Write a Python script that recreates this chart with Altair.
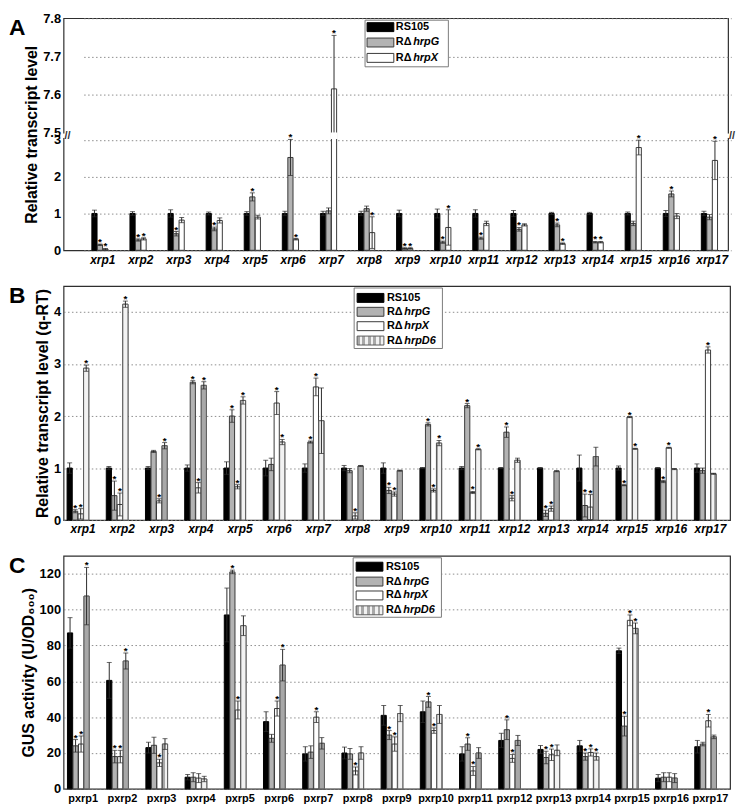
import altair as alt
import pandas as pd

FONT = "Liberation Sans"
SERIES = ["RS105", "hrpG", "hrpX", "hrpD6"]
FILLS = ["#000000", "#b3b3b3", "#ffffff", "#cfcfcf"]
STROKES = ["#000000", "#3a3a3a", "#3a3a3a", "#5a5a5a"]
LEG_MAIN = ["RS105", "RΔ", "RΔ", "RΔ"]
LEG_ITAL = ["", "hrpG", "hrpX", "hrpD6"]

genes_xrp = ["xrp1", "xrp2", "xrp3", "xrp4", "xrp5", "xrp6", "xrp7", "xrp8", "xrp9",
             "xrp10", "xrp11", "xrp12", "xrp13", "xrp14", "xrp15", "xrp16", "xrp17"]
genes_pxrp = ["pxrp1", "pxrp2", "pxrp3", "pxrp4", "pxrp5", "pxrp6", "pxrp7", "pxrp8", "pxrp9",
              "pxrp10", "pxrp11", "pxrp12", "pxrp13", "pxrp14", "pxrp15", "pxrp16", "pxrp17"]
no_sig = ["", "", "", "", "", "", "", "", "", "", "", "", "", "", "", "", ""]

# ---- Panel A ----
A_rs = [1.00, 1.00, 1.00, 1.00, 1.00, 1.00, 1.00, 1.00, 1.00, 1.00, 1.00, 1.00, 1.00, 1.00, 1.00, 1.00, 1.00]
A_rs_err = [0.09, 0.05, 0.10, 0.04, 0.05, 0.06, 0.06, 0.06, 0.09, 0.12, 0.10, 0.08, 0.03, 0.03, 0.04, 0.08, 0.06]
A_g = [0.15, 0.28, 0.45, 0.58, 1.45, 2.52, 1.07, 1.13, 0.05, 0.22, 0.33, 0.57, 0.69, 0.22, 0.73, 1.53, 0.90]
A_g_err = [0.02, 0.03, 0.06, 0.05, 0.11, 0.49, 0.08, 0.07, 0.02, 0.03, 0.03, 0.05, 0.05, 0.02, 0.06, 0.08, 0.07]
A_g_sig = ["*", "*", "*", "*", "*", "*", "", "", "*", "*", "*", "*", "*", "*", "", "*", ""]
A_x = [0.03, 0.31, 0.82, 0.81, 0.90, 0.30, 7.615, 0.48, 0.05, 0.62, 0.73, 0.69, 0.18, 0.22, 2.79, 0.93, 2.44]
A_x_err = [0.02, 0.03, 0.07, 0.07, 0.05, 0.02, 0.14, 0.43, 0.02, 0.48, 0.06, 0.03, 0.02, 0.02, 0.20, 0.07, 0.52]
A_x_sig = ["*", "*", "", "", "", "*", "*", "*", "*", "*", "", "", "*", "*", "*", "", "*"]

# ---- Panel B ----
B_rs = [1.00, 1.00, 1.00, 1.00, 1.00, 1.00, 1.00, 1.00, 1.00, 1.00, 1.00, 1.00, 1.00, 1.00, 1.00, 1.00, 1.00]
B_rs_err = [0.10, 0.03, 0.03, 0.06, 0.12, 0.15, 0.08, 0.05, 0.10, 0.01, 0.03, 0.01, 0.01, 0.25, 0.04, 0.01, 0.08]
B_g = [0.17, 0.47, 1.32, 2.65, 2.00, 1.07, 1.50, 0.95, 0.57, 1.84, 2.20, 1.69, 0.13, 0.28, 0.67, 0.74, 0.95]
B_g_err = [0.03, 0.28, 0.02, 0.03, 0.12, 0.12, 0.02, 0.04, 0.06, 0.03, 0.04, 0.10, 0.06, 0.22, 0.01, 0.02, 0.05]
B_g_sig = ["*", "*", "", "*", "*", "", "*", "", "*", "*", "*", "*", "*", "*", "*", "*", ""]
B_x = [0.12, 0.30, 0.37, 0.62, 0.64, 2.25, 2.56, 0.08, 0.50, 0.57, 0.53, 0.42, 0.22, 0.25, 1.98, 1.39, 3.27]
B_x_err = [0.10, 0.22, 0.04, 0.10, 0.04, 0.22, 0.17, 0.06, 0.04, 0.03, 0.02, 0.05, 0.05, 0.24, 0.01, 0.01, 0.06]
B_x_sig = ["*", "*", "*", "*", "*", "*", "*", "*", "*", "*", "*", "*", "*", "*", "*", "*", "*"]
B_d = [2.92, 4.15, 1.43, 2.59, 2.30, 1.50, 1.91, 1.04, 0.95, 1.48, 1.36, 1.15, 0.94, 1.22, 1.37, 0.98, 0.89]
B_d_err = [0.06, 0.06, 0.06, 0.07, 0.07, 0.05, 0.63, 0.01, 0.01, 0.05, 0.01, 0.04, 0.01, 0.18, 0.01, 0.01, 0.01]
B_d_sig = ["*", "*", "*", "*", "*", "*", "", "", "", "*", "*", "", "", "", "*", "", ""]

# ---- Panel C ----
C_rs = [87, 60.5, 23, 6.5, 97, 37.5, 19.5, 20, 41, 43, 19.5, 27, 22, 24, 77, 6, 23.5]
C_rs_err = [8.5, 10, 3, 1.5, 15, 5.5, 4, 3.3, 5.5, 6, 4, 4, 2.2, 3, 1.5, 2, 3.5]
C_g = [24, 18, 24.3, 6.5, 121, 28.2, 20.5, 19.5, 30, 48.5, 25, 33, 17.5, 18, 35, 6.5, 25]
C_g_err = [3.5, 3.5, 4.5, 2.5, 1, 2.2, 3.5, 3, 2.5, 3, 3.5, 5.5, 3.5, 2, 5.5, 2.5, 1]
C_g_sig = ["*", "*", "", "", "*", "", "", "", "*", "*", "*", "*", "*", "*", "*", "", ""]
C_x = [25, 18, 14.5, 6, 44, 44.8, 40, 10, 25, 32.5, 10, 17, 19, 20.3, 94, 6.5, 38]
C_x_err = [4.5, 3.5, 2, 2.5, 5, 4.2, 3, 2.2, 4, 1.5, 2.5, 2.2, 3.2, 2, 3, 2.5, 3.5]
C_x_sig = ["*", "*", "*", "", "*", "*", "*", "*", "*", "*", "*", "*", "*", "*", "*", "", "*"]
C_d = [107.5, 71.3, 25, 5.5, 91, 69, 25.4, 20, 42, 41.5, 20, 27, 21.5, 18, 89.5, 6, 29]
C_d_err = [16, 4.5, 3, 1.5, 5.5, 8.8, 3.2, 3.5, 4.5, 5, 3, 2.8, 3, 2, 3, 2.5, 1]
C_d_sig = ["*", "*", "", "", "", "*", "", "", "", "", "", "", "", "*", "*", "", ""]


def long_table(genes, cols):
    rows = []
    for s, vals, errs, sigs in cols:
        for g, v, e, sg in zip(genes, vals, errs, sigs):
            rows.append(dict(gene=g, series=s, value=v, err=e, sig=sg))
    return pd.DataFrame(rows)


dfA = long_table(genes_xrp, [("RS105", A_rs, A_rs_err, no_sig), ("hrpG", A_g, A_g_err, A_g_sig),
                             ("hrpX", A_x, A_x_err, A_x_sig)])
dfB = long_table(genes_xrp, [("RS105", B_rs, B_rs_err, no_sig), ("hrpG", B_g, B_g_err, B_g_sig),
                             ("hrpX", B_x, B_x_err, B_x_sig), ("hrpD6", B_d, B_d_err, B_d_sig)])
dfC = long_table(genes_pxrp, [("RS105", C_rs, C_rs_err, no_sig), ("hrpG", C_g, C_g_err, C_g_sig),
                              ("hrpX", C_x, C_x_err, C_x_sig), ("hrpD6", C_d, C_d_err, C_d_sig)])
legdf = pd.DataFrame({"series": SERIES, "main": LEG_MAIN, "ital": LEG_ITAL})

fill_scale = alt.Scale(domain=SERIES, range=FILLS)
stroke_scale = alt.Scale(domain=SERIES, range=STROKES)

# fine texture imitating the checkered fill of the hrpD6 bars
tex_stops = []
for i in range(5):
    a = i / 5.0
    b = (i + 0.5) / 5.0
    c = (i + 1) / 5.0
    tex_stops += [alt.GradientStop(offset=a, color="#a8a8a8"), alt.GradientStop(offset=b, color="#a8a8a8"),
                  alt.GradientStop(offset=b, color="#f2f2f2"), alt.GradientStop(offset=c, color="#f2f2f2")]
TEXTURE = alt.LinearGradient(gradient="linear", stops=tex_stops, x1=0, x2=1, y1=0, y2=0)

# broken axis for panel A
UP_BASE = 3.19
UP_K = 10.37


def brk(v):
    return f"(({v}) <= 3.1 ? ({v}) : {UP_BASE} + max(({v}) - 7.5, 0) * {UP_K})"


def panel(df, genes, series, ydom, yvals, ytitle, width, height, italic, xlabsize,
          letter, box, sw_x, txt_x, centers, xscale, broken=False):
    if broken:
        base = alt.Chart(df).transform_calculate(
            yv=brk("datum.value"),
            ylo=brk("max(datum.value - datum.err, 0)"),
            yhi=brk("datum.value + datum.err"),
        )
        lexpr = ("datum.value < 3.1 ? format(datum.value, 'd') : "
                 f"format(7.5 + (datum.value - {UP_BASE}) / {UP_K}, '.1f')")
        gridop = {"condition": {"test": f"abs(datum.value - {UP_BASE}) < 0.01", "value": 0}, "value": 1}
    else:
        base = alt.Chart(df).transform_calculate(
            yv="datum.value",
            ylo="max(datum.value - datum.err, 0)",
            yhi="datum.value + datum.err",
        )
        lexpr = None
        gridop = 1
    axkw = dict(values=yvals, title=ytitle, titleFontSize=16, titleFontWeight="bold",
                labelFontSize=13, labelFontWeight="bold", grid=True, gridDash=[1.5, 2.5],
                gridColor="#808080", gridWidth=0.9, gridOpacity=gridop, ticks=False, domain=False,
                labelPadding=3, titlePadding=3, labelOverlap=False)
    if lexpr:
        axkw["labelExpr"] = lexpr
    yaxis = alt.Axis(**axkw)
    yscale = alt.Scale(domain=ydom, nice=False, zero=True)
    xaxis = alt.Axis(title=None, labelAngle=0, labelFontSize=xlabsize, labelFontWeight="bold",
                     labelFontStyle="italic" if italic else "normal", ticks=False, domain=False,
                     labelPadding=4, grid=False, labelColor="black")
    xenc = alt.X("gene:N", sort=genes, scale=xscale, axis=xaxis)
    xoff = alt.XOffset("series:N", sort=series, scale=alt.Scale(domain=series, paddingInner=0.06))

    bars = base.mark_bar(strokeWidth=1).encode(
        x=xenc, xOffset=xoff,
        y=alt.Y("yv:Q", scale=yscale, axis=yaxis),
        fill=alt.Fill("series:N", scale=fill_scale, legend=None),
        stroke=alt.Stroke("series:N", scale=stroke_scale, legend=None),
    )
    layers = [bars]
    if "hrpD6" in series:
        layers.append(base.transform_filter("datum.series == 'hrpD6'").mark_bar(
            fill=TEXTURE, stroke="#5a5a5a", strokeWidth=1).encode(
            x=xenc, xOffset=xoff, y=alt.Y("yv:Q", scale=yscale, axis=yaxis)))
    rules = base.mark_rule(color="#2a2a2a", strokeWidth=1).encode(
        x=xenc, xOffset=xoff,
        y=alt.Y("ylo:Q", scale=yscale, axis=yaxis), y2="yhi:Q")
    caps_hi = base.mark_tick(color="#2a2a2a", size=5, thickness=1).encode(
        x=xenc, xOffset=xoff, y=alt.Y("yhi:Q", scale=yscale, axis=yaxis))
    lo_base = base.transform_filter("datum.value < 3.1") if broken else base
    caps_lo = lo_base.mark_tick(color="#2a2a2a", size=5, thickness=1).encode(
        x=xenc, xOffset=xoff, y=alt.Y("ylo:Q", scale=yscale, axis=yaxis))
    stars = base.transform_filter("datum.sig == '*'").mark_text(
        fontSize=10, fontWeight="bold", baseline="alphabetic", color="#000", dy=1).encode(
        x=xenc, xOffset=xoff, y=alt.Y("yhi:Q", scale=yscale, axis=yaxis), text="sig:N")

    layers += [rules, caps_hi, caps_lo, stars]

    if broken:
        one = alt.Chart(alt.Data(values=[{"b": 1}]))
        gap = base.transform_filter("datum.gene == 'xrp7' && datum.series == 'hrpX'").transform_calculate(
            g1="3.17", g2="3.05").mark_bar(fill="white", stroke="white", strokeWidth=2).encode(
            x=xenc, xOffset=xoff, y=alt.Y("g1:Q", scale=yscale, axis=yaxis), y2="g2:Q")
        layers.append(gap)
        for xp in (0, width):
            layers.append(one.transform_calculate(g1="3.17", g2="3.05").mark_rect(fill="white").encode(
                x=alt.value(xp - 3), x2=alt.value(xp + 3),
                y=alt.Y("g1:Q", scale=yscale, axis=yaxis), y2="g2:Q"))
            layers.append(one.transform_calculate(gm="3.11").mark_text(
                text="//", fontSize=11, fontWeight="bold", color="#333").encode(
                x=alt.value(xp + 4), y=alt.Y("gm:Q", scale=yscale, axis=yaxis)))

    # legend
    one = alt.Chart(alt.Data(values=[{"b": 1}]))
    layers.append(one.mark_rect(fill="white", stroke="#7a7a7a", strokeWidth=1).encode(
        x=alt.value(box[0]), x2=alt.value(box[1]), y=alt.value(box[2]), y2=alt.value(box[3])))
    for k, s in enumerate(series):
        c = centers[k]
        src = alt.Chart(legdf).transform_filter(f"datum.series == '{s}'")
        if s == "hrpD6":
            layers.append(src.mark_rect(fill=TEXTURE, stroke="#5a5a5a", strokeWidth=1).encode(
                x=alt.value(sw_x[0]), x2=alt.value(sw_x[1]), y=alt.value(c - 4.5), y2=alt.value(c + 4.5)))
        else:
            layers.append(src.mark_rect(strokeWidth=1).encode(
                x=alt.value(sw_x[0]), x2=alt.value(sw_x[1]), y=alt.value(c - 4.5), y2=alt.value(c + 4.5),
                fill=alt.Fill("series:N", scale=fill_scale, legend=None),
                stroke=alt.Stroke("series:N", scale=stroke_scale, legend=None)))
        layers.append(src.mark_text(align="left", baseline="middle", fontSize=11, fontWeight="bold",
                                    color="black").encode(
            x=alt.value(txt_x), y=alt.value(c), text="main:N"))
        if LEG_ITAL[SERIES.index(s)]:
            layers.append(src.mark_text(align="left", baseline="middle", fontSize=11, fontWeight="bold",
                                        fontStyle="italic", color="black").encode(
                x=alt.value(txt_x + 17.5), y=alt.value(c), text="ital:N"))

    # panel letter
    layers.append(alt.Chart(alt.Data(values=[{"t": letter}])).mark_text(
        align="left", baseline="top", fontSize=23, fontWeight="bold", color="black").encode(
        x=alt.value(-55), y=alt.value(-1), text="t:N"))

    return alt.layer(*layers).properties(width=width, height=height)


yvals_A = [0, 1, 2, 3, UP_BASE, UP_BASE + 0.1 * UP_K, UP_BASE + 0.2 * UP_K, UP_BASE + 0.3 * UP_K]
chartA = panel(dfA, genes_xrp, ["RS105", "hrpG", "hrpX"], [0, UP_BASE + 0.3 * UP_K], yvals_A,
               "Relative transcript level", 670, 234, True, 12, "A",
               box=[304, 388, 2, 49], sw_x=[306, 333], txt_x=335, centers=[9, 24.5, 40],
               xscale=alt.Scale(domain=genes_xrp, range=[20.3, 673.2], paddingInner=0.43, paddingOuter=0.215),
               broken=True)
chartB = panel(dfB, genes_xrp, SERIES, [0, 4.5], [0, 1, 2, 3, 4],
               "Relative transcript level (q-RT)", 672, 236, True, 12, "B",
               box=[293, 382, 2, 63], sw_x=[296, 323], txt_x=326, centers=[12, 26, 40.5, 55],
               xscale=alt.Scale(domain=genes_xrp, paddingInner=0.18, paddingOuter=0.09))
chartC = panel(dfC, genes_pxrp, SERIES, [0, 130], [0, 20, 40, 60, 80, 100, 120],
               "GUS activity (U/OD₆₀₀)", 672, 235, False, 11, "C",
               box=[292, 381, 2, 62], sw_x=[295, 322], txt_x=325, centers=[11, 26, 40, 55],
               xscale=alt.Scale(domain=genes_pxrp, paddingInner=0.2, paddingOuter=0.1))

chart = alt.vconcat(chartA, chartB, chartC, spacing=36, bounds="flush").properties(
    padding={"left": 0, "top": 0, "right": 0, "bottom": 0}
).configure_view(stroke="#2e2e2e", strokeWidth=1.2).configure_axis(
    labelFont=FONT, titleFont=FONT, labelColor="black", titleColor="black"
).configure_text(font=FONT)

chart.save("out.html", embed_options={"renderer": "svg", "actions": False})
